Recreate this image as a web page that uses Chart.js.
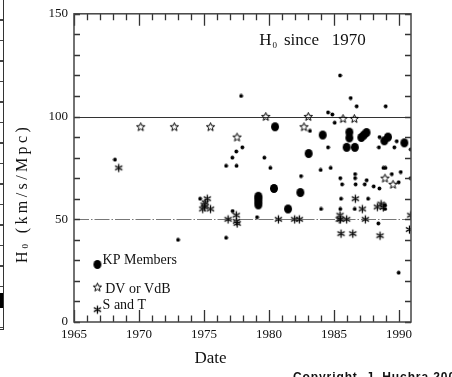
<!DOCTYPE html>
<html><head><meta charset="utf-8">
<script src="https://cdn.jsdelivr.net/npm/chart.js@4.4.0/dist/chart.umd.min.js"></script>
<style>
html,body{margin:0;padding:0;background:#fff;overflow:hidden}
#wrap{position:relative;width:452px;height:377px}
#c{position:absolute;left:0;top:0}
.edge{position:absolute;left:0;top:0;width:3px;height:329px;border-right:1.5px solid #333;border-bottom:1.5px solid #333;background:repeating-linear-gradient(to bottom,transparent 0 19px,#444 19px 20.5px)}
.blk{position:absolute;left:0;top:293px;width:3px;height:15px;background:#000}
</style></head>
<body><div id="wrap"><div class="edge"></div><div class="blk"></div><canvas id="c" width="452" height="377"></canvas></div>
<script>
// ---- data ----
const xMin = 1965, xMax = 1990.92, yMin = 0, yMax = 150;
const xTickValues = [1965, 1970, 1975, 1980, 1985, 1990];
const yTickValues = [0, 50, 100, 150];
const refLines = [100, 50];

// other determinations (small dots)
const otherX = [1968.15,1973.0,1974.7,1976.7,1976.7,1977.18,1977.2,1977.48,1977.5,1977.95,1977.85,1979.08,1979.64,1980.1,1983.15,1982.46,1983.97,1984.0,1984.54,1984.87,1985.05,1984.54,1984.74,1985.46,1986.28,1986.74,1988.97,1985.48,1985.62,1985.54,1985.48,1986.62,1986.62,1986.66,1986.59,1987.51,1987.36,1987.62,1988.05,1988.49,1988.8,1988.95,1989.44,1990.13,1989.97,1988.41,1988.92,1988.92,1989.97,1988.5,1988.45,1989.64,1989.82,1990.9,1990.9];
const otherY = [79,40,60,76,41,80,54,83,76,85,110,51,80,75,93,71,74,55,102,101,97,85,75,120,109,105,105,70,67,60,55,72,70,67,55,69,67,60,66,65,75,75,72,73,68,48,57,55,24,90,85,85,88,84,70];

// KP Members (large dots)
const kpX = [1979.18,1979.18,1979.18,1979.18,1980.46,1980.38,1981.46,1982.41,1983.05,1984.13,1986.18,1986.18,1985.97,1986.6,1987.1,1987.3,1987.5,1988.87,1989.15,1990.41];
const kpY = [57,58.5,60,61.2,95,65,55,63,82,91,92.4,89.6,85,85,89.8,91,92.2,88.2,90,87.2];

// DV or VdB (open stars)
const dvX = [1970.13,1972.72,1975.5,1977.54,1979.75,1982.69,1983.02,1985.69,1986.56,1988.92,1989.54];
const dvY = [95,95,95,90,100,95,100,99,99,70,67];

// S and T (asterisks)
const stX = [1968.44,1974.9,1975.0,1975.1,1975.25,1975.5,1975.05,1976.85,1977.48,1977.5,1977.55,1980.72,1981.97,1982.33,1985.46,1985.4,1985.5,1985.97,1985.54,1986.44,1986.64,1987.18,1987.41,1988.54,1988.33,1988.62,1988.79,1990.9,1990.8];
const stY = [75,55,57,58,60,55,56,50,52,49,48,50,50,50,52,50,50,50,43,43,60,55,50,42,56,57.4,55.8,52,45];

// current value (red cross)
const crossX = [1991.9];
const crossY = [69];

// in-plot legend
const legendX = 1966.8;
const legendY = [28, 17, 6];
const legendLabels = ['KP Members', 'DV or VdB', 'S and T'];
const legendTextX = [1967.2, 1967.4, 1967.2];
const legendTextY = [29.9, 15.7, 8];

// ---- marker images ----
function mk(w, h, draw) { const c = document.createElement('canvas'); c.width = w; c.height = h; draw(c.getContext('2d'), w, h); return c; }
const dotImg = mk(5, 5, (g) => { g.fillStyle = '#000'; g.beginPath(); g.arc(2.5, 2.5, 1.9, 0, Math.PI * 2); g.fill(); });
const kpImg = mk(10, 11, (g) => { g.fillStyle = '#000'; g.beginPath(); g.ellipse(5, 5.5, 4, 4.5, 0, 0, Math.PI * 2); g.fill(); });
const starImg = mk(11, 11, (g) => {
  g.strokeStyle = '#000'; g.lineWidth = 1; g.beginPath();
  for (let i = 0; i < 10; i++) {
    const r = i % 2 ? 1.9 : 4.4; const a = -Math.PI / 2 + i * Math.PI / 5;
    const px = 5.5 + r * Math.cos(a), py = 5.8 + r * Math.sin(a);
    i ? g.lineTo(px, py) : g.moveTo(px, py);
  }
  g.closePath(); g.stroke();
});
const astImg = mk(11, 11, (g) => {
  g.strokeStyle = 'rgba(130,130,130,0.4)'; g.lineWidth = 2.2; g.lineCap = 'round';
  const arms = () => { g.beginPath(); for (let k = 0; k < 3; k++) { const a = Math.PI / 2 + k * Math.PI / 3; g.moveTo(5.5 + 3.6 * Math.cos(a), 5.5 + 3.6 * Math.sin(a)); g.lineTo(5.5 - 3.6 * Math.cos(a), 5.5 - 3.6 * Math.sin(a)); } g.stroke(); };
  arms(); g.strokeStyle = '#000'; g.lineWidth = 1.05; arms();
});
const crossImg = mk(28, 28, (g) => {
  const c = 14, h = 12.5, a = 6;
  g.beginPath();
  g.moveTo(c - a, c - h); g.lineTo(c + a, c - h); g.lineTo(c + a, c - a); g.lineTo(c + h, c - a); g.lineTo(c + h, c + a);
  g.lineTo(c + a, c + a); g.lineTo(c + a, c + h); g.lineTo(c - a, c + h); g.lineTo(c - a, c + a); g.lineTo(c - h, c + a);
  g.lineTo(c - h, c - a); g.lineTo(c - a, c - a); g.closePath();
  g.fillStyle = '#7a0000'; g.fill(); g.strokeStyle = '#d9601f'; g.lineWidth = 1.4; g.stroke();
});

const pts = (X, Y) => X.map((v, i) => ({ x: v, y: Y[i] }));
const ds = (label, data, img, extra) => Object.assign({ label, data, pointStyle: img, pointRadius: 4, pointHoverRadius: 4, showLine: false }, extra || {});

// ---- plugins ----
const serif = '"Liberation Serif", "DejaVu Serif", serif';
function drawTicks(ctx, a, x, y) {
  ctx.save();
  ctx.strokeStyle = '#333';
  ctx.lineWidth = 1.3;
  ctx.setLineDash([]);
  for (let v = 1965; v <= 1990; v++) {
    const px = Math.round(x.getPixelForValue(v)) + 0.5;
    const L = (v % 5 === 0) ? 12 : 6.5;
    ctx.beginPath();
    ctx.moveTo(px, a.bottom); ctx.lineTo(px, a.bottom - L);
    ctx.moveTo(px, a.top); ctx.lineTo(px, a.top + L);
    ctx.stroke();
  }
  for (let v = 0; v <= 150; v += 10) {
    const py = Math.round(y.getPixelForValue(v)) + 0.5;
    ctx.beginPath();
    ctx.moveTo(a.left, py); ctx.lineTo(a.left + 6, py);
    ctx.moveTo(a.right, py); ctx.lineTo(a.right - 6, py);
    ctx.stroke();
  }
  ctx.restore();
}
const framePlugin = {
  id: 'frame',
  beforeDatasetsDraw(chart) {
    const { ctx, chartArea: a } = chart;
    const ys = chart.scales.y;
    ctx.save();
    refLines.forEach((v, i) => {
      const py = Math.round(ys.getPixelForValue(v)) + 0.5;
      ctx.beginPath();
      if (i === 0) { ctx.strokeStyle = '#333'; ctx.lineWidth = 1.2; ctx.setLineDash([]); }
      else { ctx.strokeStyle = '#777'; ctx.lineWidth = 1.2; ctx.setLineDash([15, 2, 1.5, 2]); }
      ctx.moveTo(a.left, py); ctx.lineTo(a.right, py); ctx.stroke();
    });
    ctx.restore();
  },
  afterDraw(chart) {
    const { ctx, chartArea: a } = chart;
    const x = chart.scales.x, y = chart.scales.y;
    drawTicks(ctx, a, x, y);
    ctx.save();
    ctx.strokeStyle = '#444'; ctx.lineWidth = 1.5; ctx.setLineDash([]);
    ctx.strokeRect(a.left, a.top, a.right - a.left, a.bottom - a.top);
    ctx.restore();

    ctx.save();
    ctx.fillStyle = '#111';
    ctx.textBaseline = 'alphabetic';
    ctx.textAlign = 'left';
    // plot title
    ctx.font = '17px ' + serif;
    const tb = a.top + 31.5;
    ctx.fillText('H', a.left + 185.3, tb);
    ctx.font = '9px ' + serif; ctx.fillText('0', a.left + 198.5, tb + 3);
    ctx.font = '17px ' + serif;
    ctx.fillText('since', a.left + 210, tb);
    ctx.fillText('1970', a.left + 257.7, tb);
    // x title
    ctx.font = '17px ' + serif; ctx.textAlign = 'center';
    ctx.fillText('Date', a.left + 136.5, a.bottom + 40.5);
    ctx.textAlign = 'left';
    // y title
    ctx.save();
    ctx.translate(26.5, 263); ctx.rotate(-Math.PI / 2);
    ctx.font = '16px ' + serif; ctx.fillText('H', 0, 0);
    ctx.font = '9px ' + serif; ctx.fillText('0', 14.5, 1.5);
    ctx.font = '16px ' + serif;
    try { ctx.letterSpacing = '3.4px'; } catch (e) {}
    ctx.fillText('(km/s/Mpc)', 29.7, 0);
    try { ctx.letterSpacing = '0px'; } catch (e) {}
    ctx.restore();
    // legend texts
    ctx.font = '14px ' + serif; ctx.textBaseline = 'middle';
    legendLabels.forEach((t, i) => ctx.fillText(t, x.getPixelForValue(legendTextX[i]), y.getPixelForValue(legendTextY[i])));
    // copyright (cut off at bottom)
    ctx.textBaseline = 'alphabetic';
    ctx.font = 'bold 12px "Liberation Sans", sans-serif';
    try { ctx.letterSpacing = '0.9px'; } catch (e) {}
    ctx.fillText('Copyright  J. Huchra 2008', 293, 381);
    try { ctx.letterSpacing = '0px'; } catch (e) {}
    ctx.restore();
  }
};

new Chart(document.getElementById('c'), {
  type: 'scatter',
  data: {
    datasets: [
      ds('Others', pts(otherX, otherY), dotImg),
      ds('KP Members', pts(kpX, kpY), kpImg),
      ds('DV or VdB', pts(dvX, dvY), starImg),
      ds('S and T', pts(stX, stY), astImg),
      ds('legend KP', [{ x: legendX, y: legendY[0] }], kpImg),
      ds('legend DV', [{ x: legendX, y: legendY[1] }], starImg),
      ds('legend ST', [{ x: legendX, y: legendY[2] }], astImg),
      ds('Current', pts(crossX, crossY), crossImg, { clip: false })
    ]
  },
  options: {
    responsive: false, animation: false, devicePixelRatio: 1,
    layout: { padding: { left: 0, right: 41, top: 13, bottom: 0 } },
    plugins: { legend: { display: false }, tooltip: { enabled: false } },
    events: [],
    scales: {
      x: {
        type: 'linear', min: xMin, max: xMax,
        afterFit(s) { s.height = 55; },
        afterBuildTicks(s) { s.ticks = xTickValues.map(v => ({ value: v })); },
        grid: { display: false, drawTicks: false }, border: { display: false },
        ticks: { padding: 5, color: '#111', autoSkip: false, maxRotation: 0, font: { family: serif, size: 13 }, callback: v => String(v) }
      },
      y: {
        type: 'linear', min: yMin, max: yMax,
        afterFit(s) { s.width = 74; },
        afterBuildTicks(s) { s.ticks = yTickValues.map(v => ({ value: v })); },
        grid: { display: false, drawTicks: false }, border: { display: false },
        ticks: { padding: 6, color: '#111', font: { family: serif, size: 13 }, callback: v => String(v) }
      }
    }
  },
  plugins: [framePlugin]
});
</script></body></html>
